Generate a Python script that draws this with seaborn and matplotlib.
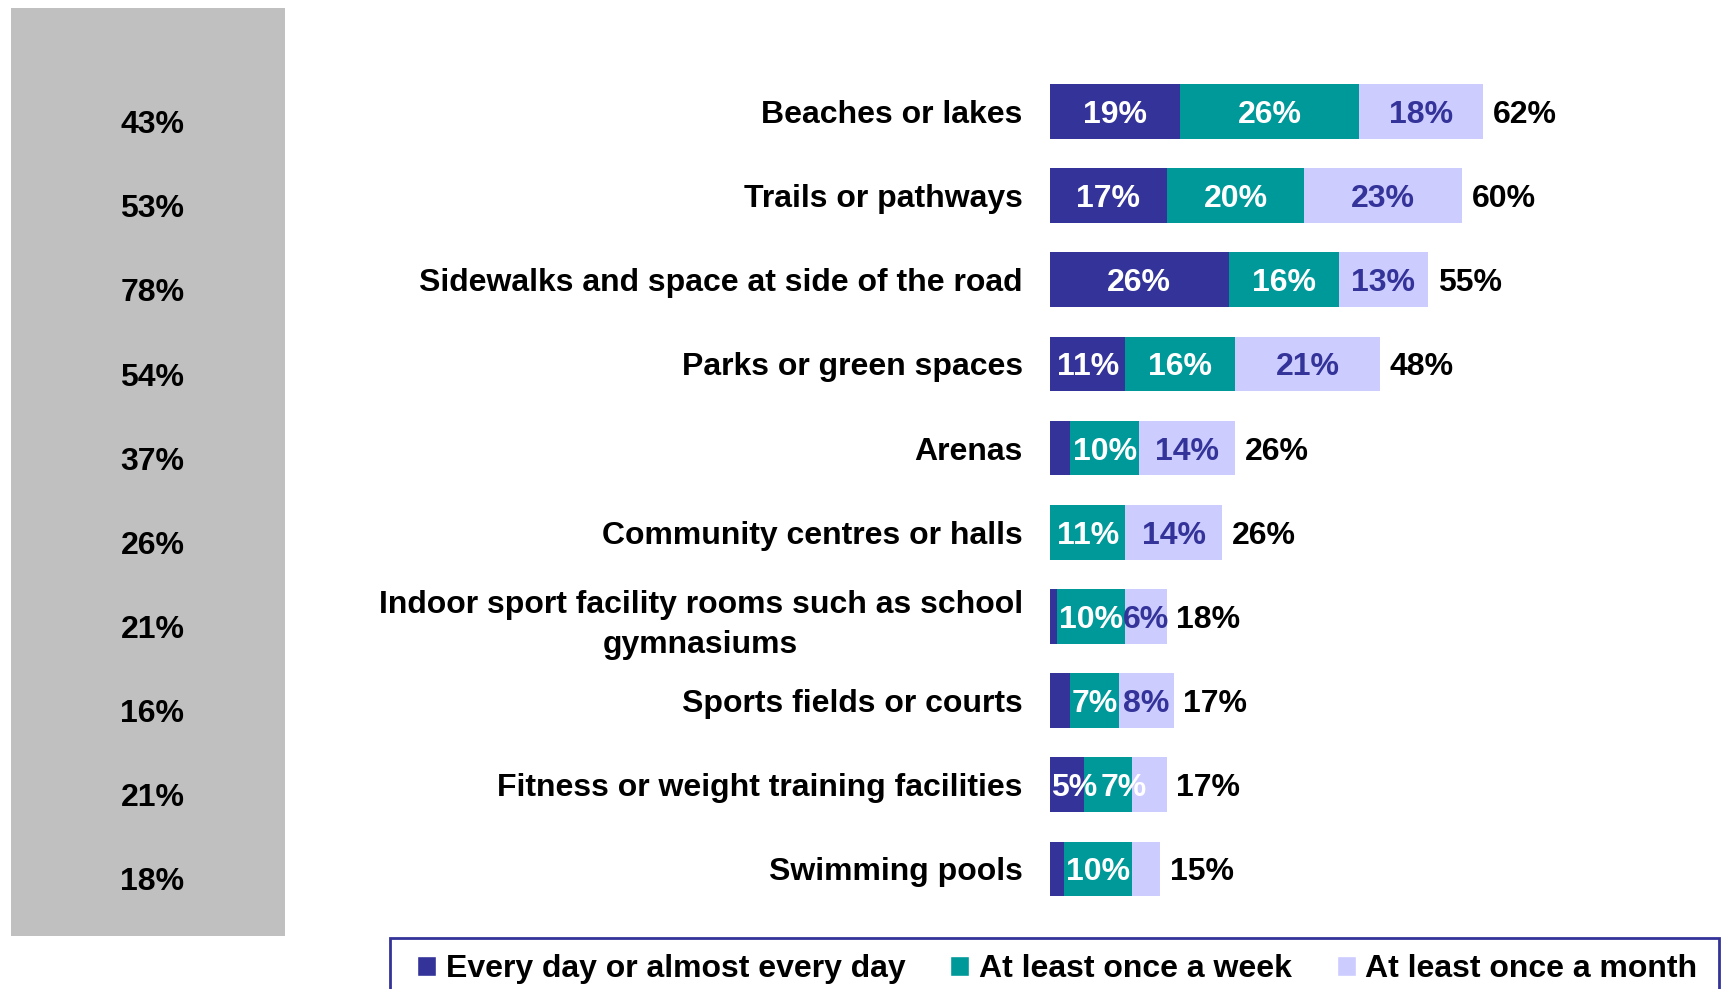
import numpy as np
import pandas as pd
import seaborn as sns
import matplotlib.pyplot as plt
from matplotlib.patches import Rectangle, Patch
from matplotlib.transforms import blended_transform_factory

sns.set_style("white")
plt.rcParams["font.family"] = ["Liberation Sans", "DejaVu Sans"]
plt.rcParams["font.weight"] = "bold"
plt.rcParams["text.color"] = "black"
plt.rcParams["ytick.labelcolor"] = "black"

categories = ["Beaches or lakes", "Trails or pathways",
              "Sidewalks and space at side of the road", "Parks or green spaces",
              "Arenas", "Community centres or halls",
              "Indoor sport facility rooms such as school\ngymnasiums",
              "Sports fields or courts", "Fitness or weight training facilities",
              "Swimming pools"]
daily = [19, 17, 26, 11, 3, 0, 1, 3, 5, 2]
weekly = [26, 20, 16, 16, 10, 11, 10, 7, 7, 10]
monthly = [18, 23, 13, 21, 14, 14, 6, 8, 5, 4]
totals = [62, 60, 55, 48, 26, 26, 18, 17, 17, 15]
daily_labels = ["19%", "17%", "26%", "11%", "", "", "", "", "5%", ""]
weekly_labels = ["26%", "20%", "16%", "16%", "10%", "11%", "10%", "7%", "7%", "10%"]
monthly_labels = ["18%", "23%", "13%", "21%", "14%", "14%", "6%", "8%", "", ""]
left_values = ["43%", "53%", "78%", "54%", "37%", "26%", "21%", "16%", "21%", "18%"]
series = ["Every day or almost every day", "At least once a week", "At least once a month"]
colors = ["#333399", "#009999", "#CCCCFF"]

FS = 23

df = pd.DataFrame({"place": categories, "d": daily, "w": weekly, "m": monthly})
df["cum1"] = df["d"]
df["cum2"] = df["d"] + df["w"]
df["cum3"] = df["cum2"] + df["m"]

fig = plt.figure(figsize=(17.21, 9.89), dpi=100)
ax = fig.add_axes([0.610, 0.0789, 0.3876, 0.851])

# grey side panel
fig.add_artist(Rectangle((0.0064, 0.0536), 0.159, 0.938, transform=fig.transFigure,
                         facecolor="#C0C0C0", edgecolor="none", zorder=0))

# stacked bars drawn as overlapping cumulative bars
for col, c in [("cum3", colors[2]), ("cum2", colors[1]), ("cum1", colors[0])]:
    sns.barplot(data=df, x=col, y="place", color=c, width=0.65, linewidth=0,
                saturation=1, orient="h", ax=ax)

# segment labels
seg_texts = []
for i in range(len(categories)):
    starts = [0, df["cum1"][i], df["cum2"][i]]
    vals = [daily[i], weekly[i], monthly[i]]
    labs = [daily_labels[i], weekly_labels[i], monthly_labels[i]]
    tcols = ["white", "white", "#333399"]
    row = []
    for s, v, lab, tc in zip(starts, vals, labs, tcols):
        if lab:
            row.append(ax.text(s + v / 2, i, lab, ha="center", va="center_baseline",
                               color=tc, fontsize=FS, fontweight="bold"))
    seg_texts.append(row)

# totals
tot = ax.bar_label(ax.containers[0], labels=[f"{t}%" for t in totals], padding=7,
                   fontsize=FS, fontweight="bold", color="black")
for t in tot:
    t.set_verticalalignment("center_baseline")

# left column values
tr = blended_transform_factory(fig.transFigure, ax.transData)
for i, v in enumerate(left_values):
    ax.text(0.0886, i + 0.12, v, transform=tr, ha="center", va="center_baseline",
            fontsize=FS, fontweight="bold", color="black")

ax.set_xlim(0, 97)
ax.set_ylim(9.5, -0.5)
ax.set_xlabel("")
ax.set_ylabel("")
ax.set_xticks([])
ax.set_yticks(range(len(categories)), categories, fontsize=FS, fontweight="bold",
              multialignment="center", linespacing=1.45, color="black")
ax.tick_params(axis="y", length=0, pad=19.5)
for sp in ax.spines.values():
    sp.set_visible(False)
ax.patch.set_alpha(0)

# nudge crowded segment labels so they do not overlap
fig.canvas.draw()
r = fig.canvas.get_renderer()
x0_disp = ax.transData.transform((0, 0))[0]


def shift_text(t, dx):
    xd, yd = ax.transData.transform(t.get_position())
    t.set_x(ax.transData.inverted().transform((xd + dx, yd))[0])


for row in seg_texts:
    prev_end = None
    for t in row:
        bb = t.get_window_extent(r)
        if prev_end is None:
            if bb.x0 < x0_disp + 1:
                shift_text(t, x0_disp + 1 - bb.x0)
        elif bb.x0 < prev_end - 2:
            shift_text(t, prev_end - bb.x0 + 4)
        prev_end = t.get_window_extent(r).x1

# legend with a separate frame that runs off the bottom edge
handles = [Patch(facecolor=c, label=s) for c, s in zip(colors, series)]
fig.legend(handles=handles, loc="center left", bbox_to_anchor=(0.2424, 0.020),
           ncol=3, frameon=False, handlelength=0.6, handleheight=0.6,
           handletextpad=0.3, columnspacing=1.4, borderpad=0, borderaxespad=0,
           fontsize=FS, labelcolor="black")
fig.add_artist(Rectangle((390 / 1721, -0.05), (1719 - 390) / 1721, 0.0511 + 0.05,
                         transform=fig.transFigure, fill=False, edgecolor="#333399",
                         linewidth=2))

fig.savefig("out.png", dpi=100)
